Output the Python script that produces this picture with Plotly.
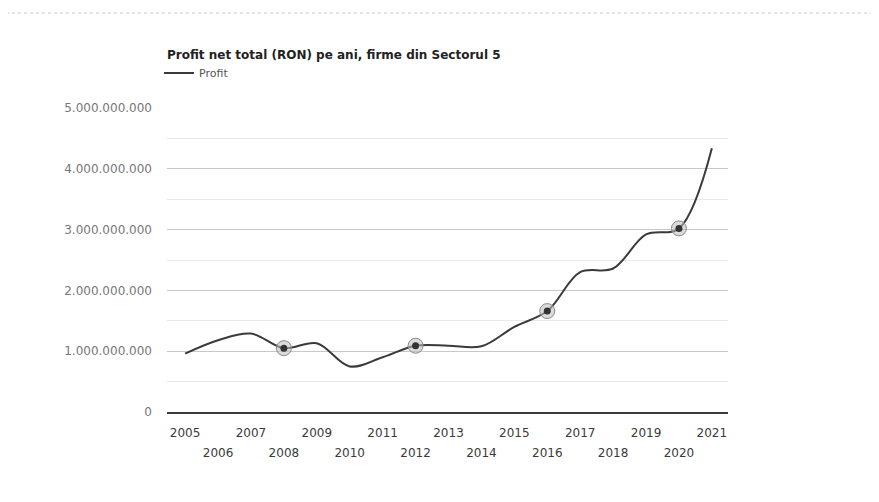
import plotly.graph_objects as go

# ---- data ----
years = list(range(2005, 2022))
profit = [0.96e9, 1.18e9, 1.29e9, 1.05e9, 1.13e9, 0.75e9, 0.90e9, 1.09e9, 1.09e9,
          1.08e9, 1.40e9, 1.66e9, 2.30e9, 2.36e9, 2.92e9, 3.02e9, 4.34e9]
marked_years = [2008, 2012, 2016, 2020]
odd_years = [y for y in years if y % 2 == 1]
even_years = [y for y in years if y % 2 == 0]
y_ticks = [0, 1e9, 2e9, 3e9, 4e9, 5e9]

title_text = "Profit net total (RON) pe ani, firme din Sectorul 5"
series_name = "Profit"

FONT = "DejaVu Sans"
OFF = 8  # page body margin
W, H = 879 - OFF, 502 - OFF
L, T = 167 - OFF, 108 - OFF
PW, PH = 561, 304
R, B = W - L - PW, H - T - PH

marked_vals = [profit[years.index(y)] for y in marked_years]

fig = go.Figure()
fig.add_trace(go.Scatter(
    x=years, y=profit, mode="lines", name=series_name,
    line=dict(color="#3a3a3a", width=2, shape="spline", smoothing=1.0),
    hoverinfo="x+y",
))
fig.add_trace(go.Scatter(
    x=marked_years, y=marked_vals, mode="markers", showlegend=False,
    marker=dict(size=15, color="rgba(190,190,190,0.55)",
                line=dict(color="#8a8a8a", width=1)),
    hoverinfo="skip",
))
fig.add_trace(go.Scatter(
    x=marked_years, y=marked_vals, mode="markers", showlegend=False,
    marker=dict(size=7, color="#333333", line=dict(width=0)),
    hoverinfo="skip",
))

xr = [2004.45, 2021.49]
fig.update_layout(
    width=W, height=H,
    margin=dict(l=L, r=R, t=T, b=B, autoexpand=False),
    paper_bgcolor="white", plot_bgcolor="white",
    separators=",.",
    font=dict(family=FONT, size=12, color="#444"),
    title=dict(text=title_text, x=(167 - OFF) / W, xanchor="left", xref="container",
               y=1 - (55 - OFF) / H, yanchor="middle", yref="container",
               pad=dict(l=0, r=0, t=0, b=0),
               font=dict(family=FONT, size=12, color="#222", weight="bold")),
    showlegend=True,
    legend=dict(x=(167 - 16) / W, xanchor="left", xref="container",
                y=1 - (73 - OFF) / H, yanchor="middle", yref="container",
                font=dict(family=FONT, size=11, color="#555"),
                bgcolor="rgba(0,0,0,0)", borderwidth=0),
    xaxis=dict(range=xr, tickmode="array", tickvals=odd_years,
               ticktext=[str(y) for y in odd_years], automargin=False,
               showgrid=False, zeroline=False, showline=True,
               linecolor="#3a3a3a", linewidth=2, ticks="",
               ticklabelstandoff=9,
               tickfont=dict(family=FONT, size=12, color="#3a3a3a")),
    xaxis2=dict(range=xr, overlaying="x", anchor="y", side="bottom",
                tickmode="array", tickvals=even_years, automargin=False,
                ticktext=[str(y) for y in even_years],
                showgrid=False, zeroline=False, showline=False, ticks="",
                ticklabelstandoff=32,
                tickfont=dict(family=FONT, size=12, color="#3a3a3a")),
    yaxis=dict(range=[0, 5e9], tickmode="array", tickvals=y_ticks,
               tickformat=",.0f", showgrid=True, gridcolor="#c8c8c8",
               gridwidth=1, zeroline=False, showline=False, ticks="",
               ticklabelstandoff=14, automargin=False,
               minor=dict(dtick=5e8, showgrid=True, gridcolor="#e8e8e8",
                          gridwidth=1),
               tickfont=dict(family=FONT, size=12, color="#777")),
    shapes=[dict(type="line", xref="paper", yref="paper",
                 x0=-(L + OFF) / PW, x1=(W - L) / PW,
                 y0=1 + (T - (13 - OFF)) / PH, y1=1 + (T - (13 - OFF)) / PH,
                 line=dict(color="#c8c8c8", width=1, dash="dot"))],
)
# dummy invisible trace so xaxis2 is rendered
fig.add_trace(go.Scatter(x=[years[0]], y=[profit[0]], xaxis="x2", mode="markers",
                         marker=dict(opacity=0), showlegend=False, hoverinfo="skip"))

fig.write_html("out.html")
